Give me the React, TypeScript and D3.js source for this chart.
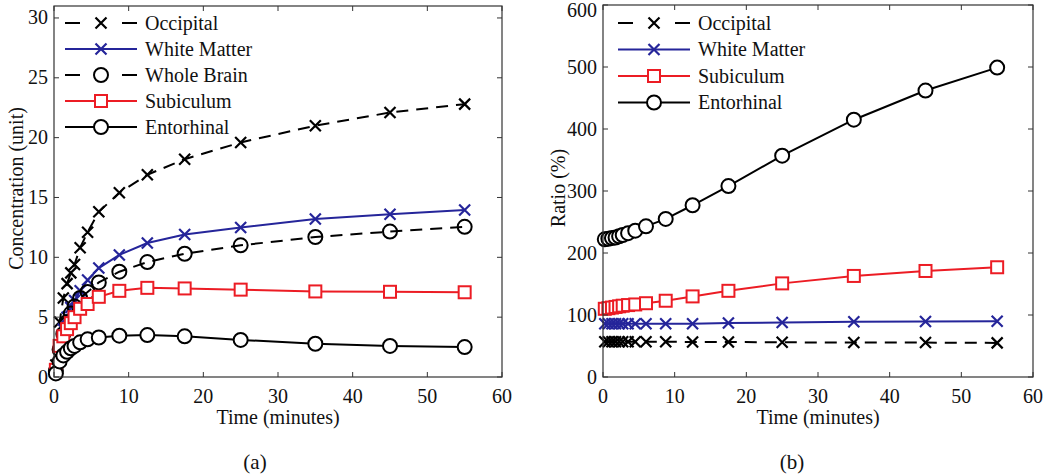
import React from 'react';
import * as d3 from 'd3';

// sample times (minutes)
const times = [0.25, 0.75, 1.25, 1.75, 2.25, 2.75, 3.5, 4.5, 6, 8.75, 12.5, 17.5, 25, 35, 45, 55];

// (a) concentration (unit)
const occipitalConc = [1.0, 4.6, 6.6, 7.8, 8.7, 9.4, 10.8, 12.1, 13.8, 15.4, 16.9, 18.2, 19.6, 21.0, 22.1, 22.8];
const whiteMatterConc = [0.6, 2.6, 4.0, 5.0, 5.8, 6.4, 7.2, 8.1, 9.1, 10.2, 11.2, 11.9, 12.5, 13.2, 13.6, 13.95];
const wholeBrainConc = [0.5, 2.3, 3.6, 4.6, 5.3, 5.9, 6.6, 7.1, 7.9, 8.8, 9.6, 10.3, 11.0, 11.7, 12.15, 12.55];
const subiculumConc = [0.6, 2.6, 3.4, 4.0, 4.5, 5.0, 5.7, 6.1, 6.7, 7.2, 7.45, 7.4, 7.3, 7.15, 7.12, 7.08];
const entorhinalConc = [0.3, 1.3, 1.8, 2.1, 2.4, 2.6, 2.9, 3.15, 3.3, 3.45, 3.5, 3.4, 3.1, 2.78, 2.6, 2.5];

// (b) ratio (%)
const occipitalRatio = [57, 57, 57, 57, 57, 57, 57, 57, 57, 57, 56.5, 56.5, 56, 55.5, 55.5, 55];
const whiteMatterRatio = [86, 86, 86, 86, 86, 86, 86, 86, 86, 86, 86, 87, 88, 89, 89.5, 90];
const subiculumRatio = [110, 111, 112, 113, 114, 115, 116, 117, 119, 123, 130, 139, 151, 163, 171, 177];
const entorhinalRatio = [222, 223, 224, 225, 227, 229, 232, 236, 243, 255, 277, 308, 357, 415, 462, 499];

const xTicks = [0, 10, 20, 30, 40, 50, 60];
const concTicks = [0, 5, 10, 15, 20, 25, 30];
const ratioTicks = [0, 100, 200, 300, 400, 500, 600];

const BLUE = '#25259a';
const RED = '#ec1c24';
const BLACK = '#000';
const FONT = '"Liberation Serif", "Times New Roman", serif';
const DASH = '12,8';
const FS = 20;

type Marker = 'x' | 'o' | 's';
interface Series { name: string; values: number[]; color: string; dashed: boolean; marker: Marker; hollow?: boolean; }

const seriesA: Series[] = [
  { name: 'Occipital', values: occipitalConc, color: BLACK, dashed: true, marker: 'x' },
  { name: 'White Matter', values: whiteMatterConc, color: BLUE, dashed: false, marker: 'x' },
  { name: 'Whole Brain', values: wholeBrainConc, color: BLACK, dashed: true, marker: 'o', hollow: true },
  { name: 'Subiculum', values: subiculumConc, color: RED, dashed: false, marker: 's' },
  { name: 'Entorhinal', values: entorhinalConc, color: BLACK, dashed: false, marker: 'o' },
];

const seriesB: Series[] = [
  { name: 'Occipital', values: occipitalRatio, color: BLACK, dashed: true, marker: 'x' },
  { name: 'White Matter', values: whiteMatterRatio, color: BLUE, dashed: false, marker: 'x' },
  { name: 'Subiculum', values: subiculumRatio, color: RED, dashed: false, marker: 's' },
  { name: 'Entorhinal', values: entorhinalRatio, color: BLACK, dashed: false, marker: 'o' },
];

const MarkerShape = ({ type, cx, cy, color, hollow }: { type: Marker; cx: number; cy: number; color: string; hollow?: boolean }) => {
  if (type === 'x') {
    const s = 5.5;
    return (
      <path d={`M${cx - s},${cy - s}L${cx + s},${cy + s}M${cx - s},${cy + s}L${cx + s},${cy - s}`}
        stroke={color} strokeWidth={2.2} fill="none" />
    );
  }
  const fill = hollow ? 'none' : '#fff';
  if (type === 'o') {
    return <circle cx={cx} cy={cy} r={7} stroke={color} strokeWidth={2} fill={fill} />;
  }
  return <rect x={cx - 6} y={cy - 6} width={12} height={12} stroke={color} strokeWidth={2} fill={fill} />;
};

interface PanelProps {
  left: number; right: number; top: number; bottom: number;
  yMax: number; yTicks: number[]; series: Series[];
  yLabel: string; yLabelX: number; caption: string; captionX: number;
  legendX: number; legendTop: number; legendGap: number;
}

const Panel = (p: PanelProps) => {
  const x = d3.scaleLinear().domain([0, 60]).range([p.left, p.right]);
  const y = d3.scaleLinear().domain([0, p.yMax]).range([p.bottom, p.top]);
  const line = d3.line<number>().x((_, i) => x(times[i])).y(d => y(d));
  const tick = 5;
  const axisColor = '#333';
  const midX = (p.left + p.right) / 2;
  const midY = (p.top + p.bottom) / 2;

  return (
    <g fontFamily={FONT} fill="#111">
      {/* data */}
      {p.series.map(s => (
        <g key={s.name}>
          <path d={line(s.values) || ''} fill="none" stroke={s.color} strokeWidth={2}
            strokeDasharray={s.dashed ? DASH : undefined} />
          {s.values.map((v, i) => (
            <MarkerShape key={i} type={s.marker} cx={x(times[i])} cy={y(v)} color={s.color} hollow={s.hollow} />
          ))}
        </g>
      ))}

      {/* box + ticks */}
      <rect x={p.left} y={p.top} width={p.right - p.left} height={p.bottom - p.top}
        fill="none" stroke={axisColor} strokeWidth={1.2} />
      {xTicks.map(t => (
        <g key={'x' + t}>
          <line x1={x(t)} x2={x(t)} y1={p.bottom} y2={p.bottom - tick} stroke={axisColor} />
          <line x1={x(t)} x2={x(t)} y1={p.top} y2={p.top + tick} stroke={axisColor} />
          <text x={x(t)} y={p.bottom + 26} textAnchor="middle" fontSize={FS}>{t}</text>
        </g>
      ))}
      {p.yTicks.map(t => (
        <g key={'y' + t}>
          <line x1={p.left} x2={p.left + tick} y1={y(t)} y2={y(t)} stroke={axisColor} />
          <line x1={p.right} x2={p.right - tick} y1={y(t)} y2={y(t)} stroke={axisColor} />
          <text x={p.left - 6} y={Math.max(y(t) + 6.5, 16.5)} textAnchor="end" fontSize={FS}>{t}</text>
        </g>
      ))}

      {/* labels */}
      <text x={midX} y={p.bottom + 47} textAnchor="middle" fontSize={FS}>Time (minutes)</text>
      <text transform={`translate(${p.yLabelX},${midY - 3}) rotate(-90)`} textAnchor="middle" fontSize={FS}>{p.yLabel}</text>
      <text x={p.captionX} y={469} textAnchor="middle" fontSize={21}>{p.caption}</text>

      {/* legend */}
      {p.series.map((s, i) => {
        const ly = p.legendTop + i * p.legendGap;
        const lx = p.legendX;
        return (
          <g key={'lg' + s.name}>
            <line x1={lx} x2={lx + 72} y1={ly} y2={ly} stroke={s.color} strokeWidth={2}
              strokeDasharray={s.dashed ? '15,42' : undefined} />
            <MarkerShape type={s.marker} cx={lx + 36} cy={ly} color={s.color} hollow={s.hollow} />
            <text x={lx + 80} y={ly + 6.5} fontSize={FS}>{s.name}</text>
          </g>
        );
      })}
    </g>
  );
};

export default function App() {
  return (
    <svg width={1050} height={474} style={{ position: 'absolute', left: 0, top: 0, background: '#fff' }}>
      <rect width={1050} height={474} fill="#fff" />
      <Panel left={54} right={502} top={6} bottom={377} yMax={31} yTicks={concTicks}
        series={seriesA} yLabel="Concentration (unit)" yLabelX={23} caption="(a)" captionX={255}
        legendX={65} legendTop={23} legendGap={26} />
      <Panel left={603} right={1033} top={5} bottom={377} yMax={600} yTicks={ratioTicks}
        series={seriesB} yLabel="Ratio (%)" yLabelX={565} caption="(b)" captionX={792}
        legendX={618} legendTop={23} legendGap={26.5} />
    </svg>
  );
}
